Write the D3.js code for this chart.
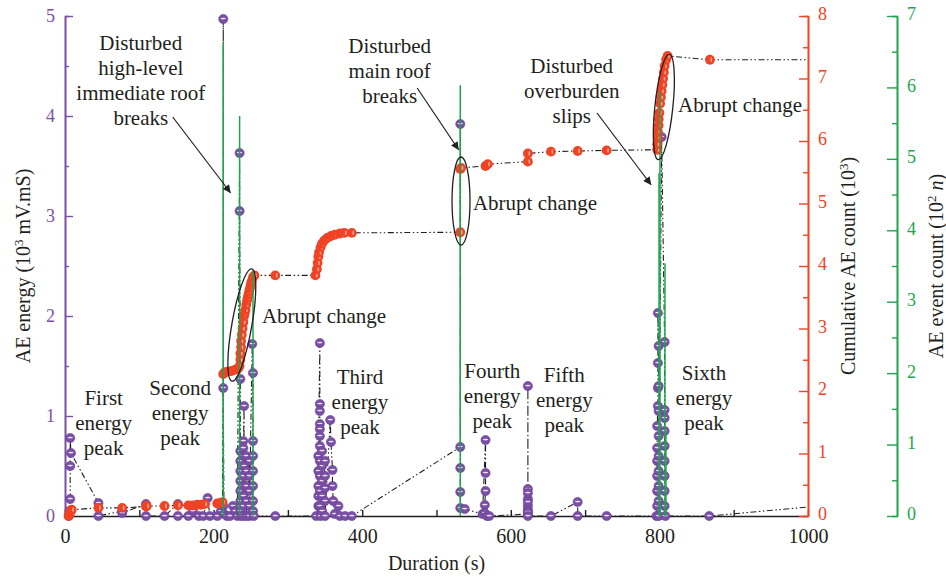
<!DOCTYPE html>
<html>
<head>
<meta charset="utf-8">
<script src="https://cdn.jsdelivr.net/npm/d3@7"></script>
<style>
  body { margin: 0; background: #fff; }
  svg text { font-family: "Liberation Serif", "Times New Roman", serif; fill: #231f20; }
</style>
</head>
<body>
<svg width="946" height="578"></svg>
<script>
// ---- data ----
// AE energy, [duration s, energy 10^3 mV.mS], in recording order
const energyPoints = [
  [5, 0], [6, 0.05], [7, 0.17], [7, 0.5], [7, 0.78], [8, 0.63],
  [45, 0.13], [45, 0], [77, 0.05], [77, 0.03], [109, 0.12], [109, 0], [134, 0],
  [152, 0.12], [152, 0], [166, 0], [172, 0.05], [180, 0], [186, 0], [192, 0.18],
  [195, 0], [205, 0], [210, 0.05],
  [213, 0.1], [213, 4.97], [213, 1.28], [214, 0.02], [218, 0], [222, 0], [226, 0.1],
  [229, 0.05], [232, 0],
  [235, 3.63], [235, 3.05], [236, 1.37], [236, 0.65], [236, 0.55], [236, 0.45],
  [236, 0.35], [236, 0.25], [236, 0.15], [236, 0.05], [237, 0],
  [240, 0.75], [240, 0.68], [240, 0.6], [241, 1.1], [241, 0.5], [240, 0.4],
  [240, 0.3], [240, 0.2], [240, 0.1], [240, 0],
  [244, 0.6], [244, 0.45], [244, 0.3], [244, 0.15], [244, 0],
  [248, 0.55], [248, 0.4], [248, 0.25], [248, 0.1], [248, 0],
  [252, 1.72], [253, 1.43], [253, 0.75], [253, 0.6], [253, 0.45], [253, 0.3],
  [253, 0.15], [253, 0.05], [254, 0],
  [283, 0], [338, 0],
  [341, 0.1], [341, 0.2], [341, 0.3], [341, 0.45], [341, 0.6], [343, 1.73],
  [343, 1.12], [343, 1.05], [343, 0.92], [343, 0.87], [343, 0.8], [343, 0.7],
  [343, 0.55], [343, 0.4], [343, 0.25], [343, 0.1], [344, 0],
  [346, 0.65], [346, 0.5], [346, 0.35], [346, 0.2], [346, 0.05],
  [350, 0.55], [350, 0.4], [350, 0.28], [350, 0.15], [350, 0],
  [357, 0.96], [358, 0.74], [360, 0.46], [360, 0.3], [361, 0.15], [363, 0.02],
  [368, 0.1], [370, 0], [377, 0], [386, 0],
  [532, 0.69], [532, 3.92], [532, 0.48], [532, 0.24], [532, 0.08], [538, 0.07],
  [562, 0.02], [566, 0.76], [566, 0.43], [566, 0.25], [565, 0.11], [565, 0.03],
  [568, 0], [571, 0],
  [623, 0.02], [623, 0.06], [623, 0.1], [623, 0.17], [623, 1.3], [623, 0.27],
  [623, 0.23], [623, 0.14], [623, 0.04], [623, 0],
  [654, 0], [690, 0.14], [690, 0], [729, 0],
  [796, 0], [797, 0.1], [797, 0.25], [797, 0.4], [797, 0.55], [797, 0.68], [797, 0.9],
  [798, 1.1], [798, 1.28], [798, 1.53], [798, 2.03], [799, 1.7], [799, 1.3],
  [799, 1.05], [799, 0.8], [799, 0.6], [799, 0.45], [799, 0.3], [799, 0.15], [799, 0],
  [803, 3.79],
  [807, 1.74], [807, 1.06], [807, 0.98], [807, 0.85], [807, 0.7], [807, 0.55],
  [807, 0.4], [807, 0.25], [807, 0.1], [808, 0],
  [867, 0], [1000, 0.09]
];

// cumulative AE count, [duration s, count 10^3]
const cumulativePoints = [
  [5, 0], [6, 0.03], [7, 0.06], [8, 0.09], [9, 0.1],
  [45, 0.13], [77, 0.13], [109, 0.15], [110, 0.16], [134, 0.16], [152, 0.17],
  [166, 0.17], [172, 0.17], [178, 0.18], [183, 0.18], [188, 0.19], [205, 0.2],
  [209, 0.21], [212, 0.22],
  [213, 2.27], [215, 2.3], [219, 2.31], [224, 2.32], [229, 2.34], [233, 2.36],
  [235, 2.4], [236, 2.5], [236, 2.6], [237, 2.7], [237, 2.8], [238, 2.9], [239, 3.0],
  [240, 3.1], [241, 3.2], [242, 3.25], [243, 3.3], [244, 3.38], [245, 3.45],
  [246, 3.5], [247, 3.55], [248, 3.6], [249, 3.65], [250, 3.7], [251, 3.75],
  [253, 3.82], [255, 3.85],
  [283, 3.85], [337, 3.85], [339, 3.95], [340, 4.05], [341, 4.15], [342, 4.22],
  [344, 4.3], [346, 4.36], [349, 4.41], [353, 4.45], [358, 4.48], [363, 4.5],
  [370, 4.52], [376, 4.53], [386, 4.53],
  [532, 4.54], [532, 5.55], [533, 5.57], [566, 5.6], [569, 5.63], [623, 5.67],
  [623, 5.8], [654, 5.83], [690, 5.84], [729, 5.85],
  [797, 5.86], [797, 5.95], [798, 6.05], [798, 6.15], [799, 6.25], [799, 6.35],
  [800, 6.45], [801, 6.6], [802, 6.7], [803, 6.8], [804, 6.9], [805, 7.0],
  [806, 7.1], [807, 7.2], [809, 7.3], [811, 7.36],
  [868, 7.3], [1000, 7.3]
];

// AE event count spikes (10^2 n)
const eventTimes = [213, 235, 253, 532, 799.5, 800.8, 807.5, 808.8];
const eventCounts = [6.62, 5.6, 3.44, 6.03, 4.8, 5.94, 3.54, 1.2];

// tick values
const durationTicks = d3.range(0, 1001, 100);
const durationLabels = [0, 200, 400, 600, 800, 1000];
const energyTicks = [0, 1, 2, 3, 4, 5];
const cumulativeTicks = [0, 1, 2, 3, 4, 5, 6, 7, 8];
const eventTicks = [0, 1, 2, 3, 4, 5, 6, 7];

// annotations in data units (duration, energy)
const textBlocks = [
  { lines: ["Disturbed", "high-level", "immediate roof", "breaks"], t: 102, e: 4.66, anchor: "middle" },
  { lines: ["Disturbed", "main roof", "breaks"], t: 437, e: 4.63, anchor: "middle" },
  { lines: ["Disturbed", "overburden", "slips"], t: 682, e: 4.43, anchor: "middle" },
  { lines: ["Abrupt change"], t: 265, e: 1.93, anchor: "start" },
  { lines: ["Abrupt change"], t: 549, e: 3.06, anchor: "start" },
  { lines: ["Abrupt change"], t: 825, e: 4.04, anchor: "start" },
  { lines: ["First", "energy", "peak"], t: 52, e: 1.11, anchor: "middle" },
  { lines: ["Second", "energy", "peak"], t: 155, e: 1.21, anchor: "middle" },
  { lines: ["Third", "energy", "peak"], t: 397, e: 1.32, anchor: "middle" },
  { lines: ["Fourth", "energy", "peak"], t: 575, e: 1.38, anchor: "middle" },
  { lines: ["Fifth", "energy", "peak"], t: 672, e: 1.34, anchor: "middle" },
  { lines: ["Sixth", "energy", "peak"], t: 860, e: 1.36, anchor: "middle" }
];
const arrows = [
  { from: [145, 3.99], to: [223, 3.23] },
  { from: [474, 4.28], to: [530, 3.66] },
  { from: [716, 4.03], to: [789, 3.31] }
];
const ellipses = [
  { t: 238, e: 1.91, rx: 10, ry: 57, rot: 10 },
  { t: 533, e: 3.15, rx: 9, ry: 44, rot: 0 },
  { t: 806, e: 4.09, rx: 9, ry: 53, rot: 6 }
];

// ---- layout ----
const width = 946;
const height = 578;
const margin = { top: 16, right: 138, bottom: 62, left: 65 };
const greenAxisX = 897;

const purple = "#7b4fa6";
const red = "#ef4324";
const green = "#1ca64c";
const ink = "#231f20";

const svg = d3.select("svg");

// scales
const xScale = d3.scaleLinear().domain([0, 1000]).range([margin.left, width - margin.right]);
const yEnergy = d3.scaleLinear().domain([0, 5]).range([height - margin.bottom, margin.top]);
const yCum = d3.scaleLinear().domain([0, 8]).range([height - margin.bottom, margin.top]);
const yEvent = d3.scaleLinear().domain([0, 7]).range([height - margin.bottom, margin.top]);

const halves = n => d3.range(0.5, n, 1);
const intFmt = d3.format("d");

function styleAxis(g, color, size) {
  g.select(".domain").attr("stroke", color).attr("stroke-width", 1.6);
  g.selectAll(".tick line").attr("stroke", color).attr("stroke-width", 1.4);
  g.selectAll(".tick text").style("fill", color).attr("font-size", size)
    .style("font-family", '"Liberation Serif", serif');
}

// x axis (black, inward ticks)
const xAxis = d3.axisBottom(xScale)
  .tickValues(durationTicks)
  .tickFormat(d => durationLabels.includes(d) ? d : "")
  .tickSizeInner(-6)
  .tickSizeOuter(0)
  .tickPadding(13);
svg.append("g")
  .attr("transform", `translate(0, ${height - margin.bottom})`)
  .call(xAxis)
  .call(g => styleAxis(g, ink, 20));

// left axis (purple)
svg.append("g")
  .attr("transform", `translate(${margin.left}, 0)`)
  .call(d3.axisLeft(yEnergy).tickValues(energyTicks).tickFormat(intFmt)
    .tickSizeInner(-8).tickSizeOuter(0).tickPadding(10))
  .call(g => styleAxis(g, purple, 18));
svg.append("g")
  .attr("transform", `translate(${margin.left}, 0)`)
  .call(d3.axisLeft(yEnergy).tickValues(halves(5)).tickSize(-4).tickFormat(""))
  .call(g => styleAxis(g, purple, 18));

// red axis
const redX = width - margin.right;
svg.append("g")
  .attr("transform", `translate(${redX}, 0)`)
  .call(d3.axisRight(yCum).tickValues(cumulativeTicks).tickFormat(intFmt)
    .tickSizeInner(-9).tickSizeOuter(0).tickPadding(10))
  .call(g => styleAxis(g, red, 18))
  .call(g => g.selectAll(".tick text").attr("dy", "0.22em"));
svg.append("g")
  .attr("transform", `translate(${redX}, 0)`)
  .call(d3.axisRight(yCum).tickValues(halves(8)).tickSize(-5).tickFormat(""))
  .call(g => styleAxis(g, red, 18));

// green axis
svg.append("g")
  .attr("transform", `translate(${greenAxisX}, 0)`)
  .call(d3.axisRight(yEvent).tickValues(eventTicks).tickFormat(intFmt)
    .tickSizeInner(-10).tickSizeOuter(0).tickPadding(10))
  .call(g => styleAxis(g, green, 18))
  .call(g => g.selectAll(".tick text").attr("dy", "0.22em"));
svg.append("g")
  .attr("transform", `translate(${greenAxisX}, 0)`)
  .call(d3.axisRight(yEvent).tickValues(halves(7)).tickSize(-5).tickFormat(""))
  .call(g => styleAxis(g, green, 18));

// axis titles
svg.append("text")
  .attr("x", xScale(500)).attr("y", 570)
  .attr("text-anchor", "middle").attr("font-size", 20)
  .text("Duration (s)");

function rotatedTitle(xPos, parts) {
  const t = svg.append("text")
    .attr("transform", `translate(${xPos}, ${yEnergy(2.5)}) rotate(-90)`)
    .attr("text-anchor", "middle")
    .attr("font-size", 20);
  parts.forEach(p => {
    const s = t.append("tspan").text(p.text);
    if (p.sup) s.attr("baseline-shift", "super").attr("font-size", 13);
    if (p.italic) s.attr("font-style", "italic");
  });
}
rotatedTitle(30, [{ text: "AE energy (10" }, { text: "3", sup: true }, { text: " mV.mS)" }]);
rotatedTitle(855, [{ text: "Cumulative AE count (10" }, { text: "3", sup: true }, { text: ")" }]);
rotatedTitle(943, [{ text: "AE event count (10" }, { text: "2", sup: true }, { text: " " }, { text: "n", italic: true }, { text: ")" }]);

// ---- series lines ----
const dashDotDot = "6 2.5 1.5 2.5 1.5 2.5";
const energyLine = d3.line().x(d => xScale(d[0])).y(d => yEnergy(d[1]));
const cumLine = d3.line().x(d => xScale(d[0])).y(d => yCum(d[1]));

svg.append("path")
  .datum(energyPoints)
  .attr("d", energyLine)
  .attr("fill", "none")
  .attr("stroke", ink)
  .attr("stroke-width", 1.1)
  .attr("stroke-dasharray", dashDotDot);

svg.append("path")
  .datum(cumulativePoints)
  .attr("d", cumLine)
  .attr("fill", "none")
  .attr("stroke", ink)
  .attr("stroke-width", 1.1)
  .attr("stroke-dasharray", dashDotDot);

// ---- markers ----
const eMarks = svg.append("g")
  .selectAll("g")
  .data(energyPoints.filter(d => d[0] < 1000))
  .join("g")
  .attr("transform", d => `translate(${xScale(d[0])}, ${yEnergy(d[1])})`);
eMarks.append("circle").attr("r", 4.6).attr("fill", purple).attr("stroke", "#6a3f96").attr("stroke-width", 0.6);
eMarks.append("ellipse").attr("cx", 0).attr("cy", -0.4).attr("rx", 2.8).attr("ry", 0.8).attr("fill", "#fff").attr("opacity", 0.85);

const cMarks = svg.append("g")
  .selectAll("g")
  .data(cumulativePoints.filter(d => d[0] < 1000))
  .join("g")
  .attr("transform", d => `translate(${xScale(d[0])}, ${yCum(d[1])})`);
cMarks.append("circle").attr("r", 4.9).attr("fill", red);
cMarks.append("ellipse").attr("cx", 1.4).attr("cy", 0).attr("rx", 0.9).attr("ry", 2.4).attr("fill", "#fff").attr("opacity", 0.5);

// ---- event count spikes ----
svg.append("g")
  .selectAll("line")
  .data(eventTimes.map((t, i) => ({ t, n: eventCounts[i] })))
  .join("line")
  .attr("x1", d => xScale(d.t)).attr("x2", d => xScale(d.t))
  .attr("y1", yEvent(0)).attr("y2", d => yEvent(d.n))
  .attr("stroke", green)
  .attr("stroke-width", 1.5);

// ---- annotations ----
svg.append("defs").append("marker")
  .attr("id", "arrowhead")
  .attr("viewBox", "0 0 10 10")
  .attr("refX", 10).attr("refY", 5)
  .attr("markerWidth", 11).attr("markerHeight", 8)
  .attr("markerUnits", "userSpaceOnUse")
  .attr("orient", "auto")
  .append("path").attr("d", "M0,0 L10,5 L0,10 Z").attr("fill", ink);

svg.append("g")
  .selectAll("line")
  .data(arrows)
  .join("line")
  .attr("x1", d => xScale(d.from[0])).attr("y1", d => yEnergy(d.from[1]))
  .attr("x2", d => xScale(d.to[0])).attr("y2", d => yEnergy(d.to[1]))
  .attr("stroke", ink).attr("stroke-width", 1.2)
  .attr("marker-end", "url(#arrowhead)");

svg.append("g")
  .selectAll("ellipse")
  .data(ellipses)
  .join("ellipse")
  .attr("transform", d => `translate(${xScale(d.t)}, ${yEnergy(d.e)}) rotate(${d.rot})`)
  .attr("rx", d => d.rx).attr("ry", d => d.ry)
  .attr("fill", "none").attr("stroke", ink).attr("stroke-width", 1.3);

textBlocks.forEach(b => {
  const t = svg.append("text")
    .attr("x", xScale(b.t)).attr("y", yEnergy(b.e))
    .attr("text-anchor", b.anchor)
    .attr("font-size", 21);
  b.lines.forEach((line, i) => {
    t.append("tspan").attr("x", xScale(b.t)).attr("dy", i === 0 ? 0 : 25).text(line);
  });
});
</script>
</body>
</html>
